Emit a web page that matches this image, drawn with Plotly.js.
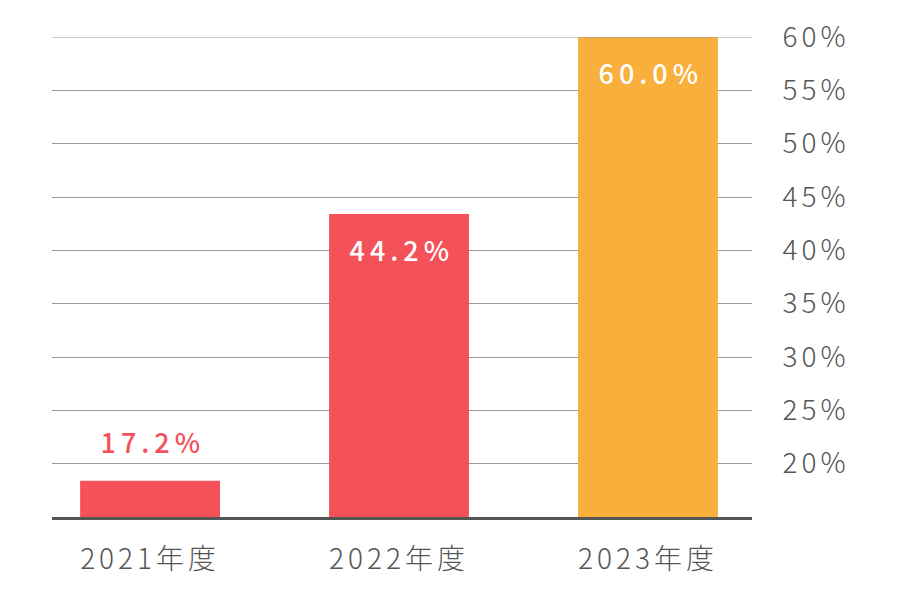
<!DOCTYPE html>
<html>
<head>
<meta charset="utf-8">
<script src="https://cdn.plot.ly/plotly-3.0.1.min.js"></script>
<style>
  html, body { margin:0; padding:0; background:#fff; }
  #chart { width:900px; height:600px; }
  #chart text { letter-spacing:4px; }
  #chart .annotation text { letter-spacing:5px; }
</style>
</head>
<body>
<div id="chart"></div>
<script>
/* bar chart — share by fiscal year, y axis on the right */

const years      = ['2021年度', '2022年度', '2023年度'];
const values     = [18.4, 43.4, 60.0];          // bar heights as drawn
const labels     = ['17.2%', '44.2%', '60.0%']; // printed values
const barColors  = ['#f55158', '#f55158', '#f9af3c'];
const labelColors= ['#f55158', '#ffffff', '#ffffff'];
const labelInside= [false, true, true];
const tickVals   = [20, 25, 30, 35, 40, 45, 50, 55, 60];
const tickText   = ['20%', '25%', '30%', '35%', '40%', '45%', '50%', '55%', '60%'];

const FONT = 'Noto Sans CJK JP, Noto Sans, sans-serif';

const annotations = years.map((y, i) => ({
  x: y, y: values[i], xref:'x', yref:'y',
  text: labels[i], showarrow:false,
  yanchor: labelInside[i] ? 'top' : 'bottom',
  yshift: labelInside[i] ? -14 : 18,
  xshift: 3,
  font:{ family:FONT, size:27, weight:500, color:labelColors[i] },
}));

Plotly.newPlot('chart', [{
  type:'bar', x:years, y:values,
  base:0, width:0.562,
  marker:{ color:barColors, line:{width:0} },
  hoverinfo:'skip',
}], {
  width:900, height:600,
  paper_bgcolor:'#fff', plot_bgcolor:'#fff',
  margin:{ l:52, r:148, t:37, b:83 },
  showlegend:false,
  font:{ family:FONT, color:'#555' },
  xaxis:{
    type:'category', range:[-0.394, 2.418],
    showgrid:false, zeroline:false,
    showline:true, linecolor:'#555', linewidth:3,
    ticks:'outside', ticklen:15, tickcolor:'rgba(0,0,0,0)',
    tickfont:{ family:FONT, size:28, weight:300, color:'#555' },
  },
  yaxis:{
    side:'right', range:[15, 60],
    tickvals:tickVals, ticktext:tickText,
    showgrid:true, gridcolor:'#999', gridwidth:1,
    zeroline:false, showline:false,
    ticks:'outside', ticklen:24, tickcolor:'rgba(0,0,0,0)',
    tickfont:{ family:FONT, size:28, weight:300, color:'#555' },
  },
  shapes:[{ type:'line', xref:'paper', yref:'y', x0:0, x1:1, y0:60, y1:60,
            line:{ color:'#999', width:1 }, layer:'above' }],
  annotations,
}, { displayModeBar:false, staticPlot:true });
</script>
</body>
</html>
